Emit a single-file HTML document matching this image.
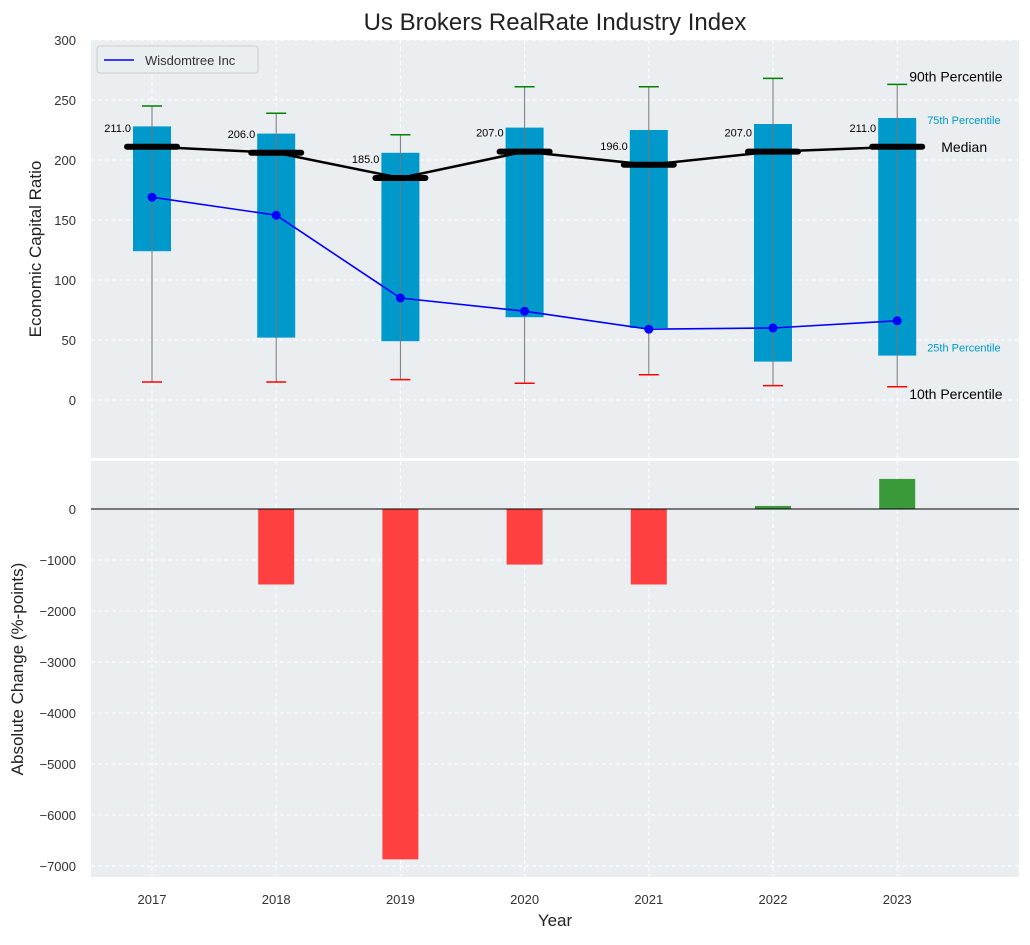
<!DOCTYPE html>
<html><head><meta charset="utf-8"><style>
body{margin:0;background:#fff;font-family:"Liberation Sans","DejaVu Sans",sans-serif;}
svg text{font-family:"Liberation Sans","DejaVu Sans",sans-serif;}
</style></head><body>
<svg id="c" width="1030" height="940" xmlns="http://www.w3.org/2000/svg"></svg>
<script>
const years=["2017","2018","2019","2020","2021","2022","2023"];
const p10=[15,15,17,14,21,12,11];
const p25=[124,52,49,69,60,32,37];
const median=[211,206,185,207,196,207,211];
const p75=[228,222,206,227,225,230,235];
const p90=[245,239,221,261,261,268,263];
const company=[169,154,85,74,59,60,66];
const changes=[null,-1480,-6870,-1090,-1480,60,590];
const topTicks=[0,50,100,150,200,250,300];
const botTicks=[0,-1000,-2000,-3000,-4000,-5000,-6000,-7000];
const NS="http://www.w3.org/2000/svg";
const svg=document.getElementById('c');
function el(t,a,p){const e=document.createElementNS(NS,t);for(const k in a)e.setAttribute(k,a[k]);(p||svg).appendChild(e);return e;}
const L=91,R=1019;
const x=i=>152+i*124.2;
const T0=40,T1=458,yT=v=>400-v*1.2;
const B0=461,B1=877,yB=v=>509-v*0.051;
let e=el('rect',{x:L,y:T0,width:R-L,height:T1-T0,fill:'#eaeef0'});

e=el('rect',{x:L,y:B0,width:R-L,height:B1-B0,fill:'#eaeef0'});

years.forEach((y,i)=>{
 el('line',{x1:x(i),x2:x(i),y1:T0,y2:T1,stroke:'#fff','stroke-dasharray':'4,3'});
 el('line',{x1:x(i),x2:x(i),y1:B0,y2:B1,stroke:'#fff','stroke-dasharray':'4,3'});
 e=el('text',{x:x(i),y:904,'text-anchor':'middle','font-size':13,fill:'#333'});e.textContent=y;
 
});
topTicks.forEach(v=>{
 el('line',{x1:L,x2:R,y1:yT(v),y2:yT(v),stroke:'#fff','stroke-dasharray':'4,3'});
 e=el('text',{x:76,y:yT(v)+5,'text-anchor':'end','font-size':13,fill:'#333'});e.textContent=v;
 
});
botTicks.forEach(v=>{
 el('line',{x1:L,x2:R,y1:yB(v),y2:yB(v),stroke:'#fff','stroke-dasharray':'4,3'});
 e=el('text',{x:76,y:yB(v)+5,'text-anchor':'end','font-size':13,fill:'#333'});e.textContent=String(v).replace('-','\u2212');
 
});
years.forEach((y,i)=>{
 const cx=x(i);
 e=el('rect',{x:cx-19,y:yT(p75[i]),width:38,height:yT(p25[i])-yT(p75[i]),fill:'#0099cc'});
 
 e=el('line',{x1:cx,x2:cx,y1:yT(p90[i]),y2:yT(p10[i]),stroke:'#777','stroke-width':1});
 
 e=el('line',{x1:cx-10,x2:cx+10,y1:yT(p90[i]),y2:yT(p90[i]),stroke:'green','stroke-width':1.5});
 
 e=el('line',{x1:cx-10,x2:cx+10,y1:yT(p10[i]),y2:yT(p10[i]),stroke:'red','stroke-width':1.5});
 
 e=el('line',{x1:cx-25,x2:cx+25,y1:yT(median[i]),y2:yT(median[i]),stroke:'#000','stroke-width':6,'stroke-linecap':'round'});
 
 e=el('text',{x:cx-21,y:yT(median[i])-15,'text-anchor':'end','font-size':11,fill:'#000'});e.textContent=median[i].toFixed(1);
 
});
e=el('polyline',{points:median.map((v,i)=>x(i)+','+yT(v)).join(' '),fill:'none',stroke:'#000','stroke-width':2.5});

e=el('polyline',{points:company.map((v,i)=>x(i)+','+yT(v)).join(' '),fill:'none',stroke:'blue','stroke-width':1.6});

company.forEach((v,i)=>{e=el('circle',{cx:x(i),cy:yT(v),r:4.5,fill:'blue'});
 });
const last=years.length-1,lx=x(last);
[["90th Percentile",lx+12,yT(p90[last])-3,14,'#000'],["75th Percentile",lx+30,yT(p75[last])+6,11,'#0099cc'],
 ["Median",lx+44,yT(median[last])+5,14,'#000'],["25th Percentile",lx+30,yT(p25[last])-4,11,'#0099cc'],
 ["10th Percentile",lx+12,yT(p10[last])+12,14,'#000']].forEach(a=>{
 e=el('text',{x:a[1],y:a[2],'font-size':a[3],fill:a[4]});e.textContent=a[0];
 });
changes.forEach((v,i)=>{if(v===null)return;
 const y0=yB(Math.max(v,0)),h=Math.abs(yB(v)-yB(0));
 e=el('rect',{x:x(i)-18,y:y0,width:36,height:h,fill:v<0?'#ff4040':'#3a9a3a'});
 });
e=el('line',{x1:L,x2:R,y1:yB(0),y2:yB(0),stroke:'#000','stroke-width':1});

e=el('rect',{x:97,y:46,width:161,height:27,fill:'#eaeef0',stroke:'#ccc',rx:3});

el('line',{x1:104,x2:134,y1:60,y2:60,stroke:'blue','stroke-width':1.6});
e=el('text',{x:145,y:65,'font-size':13,fill:'#333'});e.textContent='Wisdomtree Inc';

e=el('text',{x:555,y:30,'text-anchor':'middle','font-size':24,fill:'#222'});e.textContent='Us Brokers RealRate Industry Index';

e=el('text',{x:0,y:0,'text-anchor':'middle','font-size':17,fill:'#222',transform:'translate(41,249) rotate(-90)'});e.textContent='Economic Capital Ratio';

e=el('text',{x:0,y:0,'text-anchor':'middle','font-size':17,fill:'#222',transform:'translate(23,669) rotate(-90)'});e.textContent='Absolute Change (%-points)';

e=el('text',{x:555,y:926,'text-anchor':'middle','font-size':17,fill:'#222'});e.textContent='Year';

</script>
</body></html>
